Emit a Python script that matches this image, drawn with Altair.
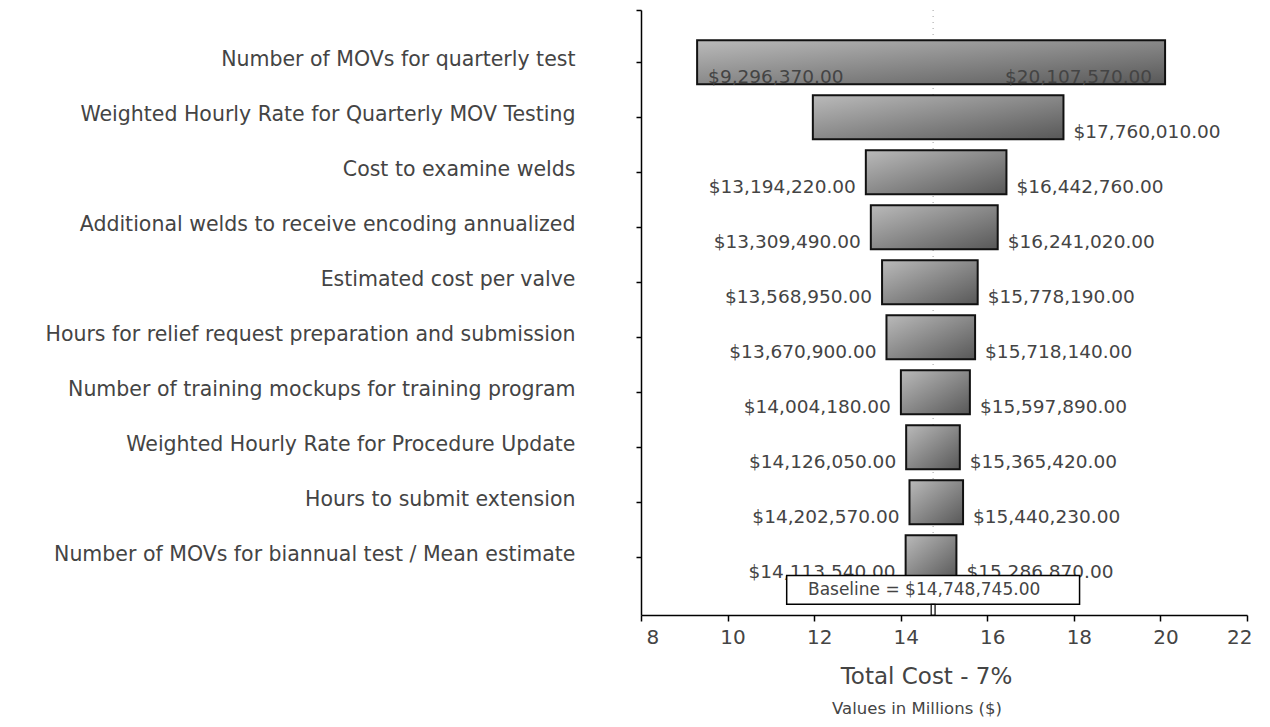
import json
import altair as alt
import pandas as pd

labels = [
    "Number of MOVs for quarterly test",
    "Weighted Hourly Rate for Quarterly MOV Testing",
    "Cost to examine welds",
    "Additional welds to receive encoding annualized",
    "Estimated cost per valve",
    "Hours for relief request preparation and submission",
    "Number of training mockups for training program",
    "Weighted Hourly Rate for Procedure Update",
    "Hours to submit extension",
    "Number of MOVs for biannual test / Mean estimate",
]
low = [9296370, 11970000, 13194220, 13309490, 13568950,
       13670900, 14004180, 14126050, 14202570, 14113540]
high = [20107570, 17760010, 16442760, 16241020, 15778190,
        15718140, 15597890, 15365420, 15440230, 15286870]
low_pos = ["inside", "none", "outside", "outside", "outside",
           "outside", "outside", "outside", "outside", "outside"]
high_pos = ["inside", "outside", "outside", "outside", "outside",
            "outside", "outside", "outside", "outside", "outside"]
baseline = 14748745
x_ticks = [8, 10, 12, 14, 16, 18, 20, 22]

rows = []
for i, (lab, lo, hi, lp, hp) in enumerate(zip(labels, low, high, low_pos, high_pos)):
    rows.append(dict(idx=i, label=lab, lo=lo / 1e6, hi=hi / 1e6,
                     lo_txt=f"${lo:,.2f}", hi_txt=f"${hi:,.2f}",
                     lpos=lp, hpos=hp))
df = pd.DataFrame(rows)
bdf = pd.DataFrame({"base": [baseline / 1e6],
                    "txt": [f"Baseline = ${baseline:,.2f}"]})

FONT = "DejaVu Sans"
TXT = "#444444"
xscale = alt.Scale(domain=[8, 22], nice=False, zero=False)
yscale = alt.Scale(domain=[-0.95, 10.05], reverse=True, nice=False, zero=False)

label_expr = "[" + ",".join(json.dumps(l) for l in labels) + "][datum.value] || ''"

xaxis = alt.Axis(values=x_ticks, grid=False, domainColor="black", domainWidth=1.5,
                 tickColor="black", tickWidth=1.5, tickSize=6,
                 labelFontSize=20, labelColor=TXT, labelFont=FONT, labelOffset=5,
                 labelPadding=6,
                 title="Total Cost - 7%", titleFontSize=23, titleFontWeight="normal",
                 titleColor=TXT, titleFont=FONT, titlePadding=18, titleX=285,
                 titleAnchor="start", titleAlign="center")
yaxis = alt.Axis(values=[-0.95] + list(range(10)), grid=False, domainColor="black",
                 domainWidth=1.5, tickColor="black", tickWidth=1.5, tickSize=5,
                 labelExpr=label_expr, labelFontSize=20.5, labelColor=TXT,
                 labelFont=FONT, labelPadding=61, labelLimit=1000, labelOffset=-3,
                 title=None)

def X(field):
    return alt.X(field, scale=xscale, axis=xaxis)

def Y(field):
    return alt.Y(field, scale=yscale, axis=yaxis)

base = alt.Chart(df).transform_calculate(
    y0="datum.idx - 0.4", y1="datum.idx + 0.4")

rule = alt.Chart(bdf).transform_calculate(
    ytop="-0.95", ybot="10.05").mark_rule(
    color="#b0b0b0", strokeDash=[1, 5], strokeWidth=1.2).encode(
    x=X("base:Q"), y=Y("ytop:Q"), y2="ybot:Q")

grad = {"gradient": "linear", "x1": 0, "y1": 0, "x2": 1, "y2": 1,
        "stops": [{"offset": 0, "color": "#bababa"},
                  {"offset": 1, "color": "#585858"}]}

bars = base.mark_rect(fill=grad, stroke="#111111", strokeWidth=2).encode(
    x=X("lo:Q"), x2="hi:Q", y=Y("y0:Q"), y2="y1:Q")

def txt(filter_expr, xfield, tfield, align, dx):
    return base.transform_filter(filter_expr).mark_text(
        align=align, baseline="alphabetic", dx=dx, dy=-1,
        fontSize=18.5, font=FONT, color=TXT).encode(
        x=X(f"{xfield}:Q"), y=Y("y1:Q"), text=f"{tfield}:N")

lo_out = txt("datum.lpos == 'outside'", "lo", "lo_txt", "right", -10)
lo_in = txt("datum.lpos == 'inside'", "lo", "lo_txt", "left", 11)
hi_out = txt("datum.hpos == 'outside'", "hi", "hi_txt", "left", 10)
hi_in = txt("datum.hpos == 'inside'", "hi", "hi_txt", "right", -13)

box = alt.Chart(bdf).transform_calculate(
    bx0="datum.base - 3.383", bx1="datum.base + 3.383",
    by0="9.33", by1="9.855").mark_rect(
    fill="white", stroke="black", strokeWidth=1.5).encode(
    x=X("bx0:Q"), x2="bx1:Q", y=Y("by0:Q"), y2="by1:Q")

box_text = alt.Chart(bdf).transform_calculate(ym="9.5925").mark_text(
    align="center", baseline="middle", dx=-9, fontSize=17, font=FONT,
    color=TXT).encode(
    x=X("base:Q"), y=Y("ym:Q"), text="txt:N")

marker = alt.Chart(bdf).transform_calculate(
    mx0="datum.base - 0.045", mx1="datum.base + 0.045",
    my0="9.855", my1="10.05").mark_rect(
    fill="white", stroke="black", strokeWidth=1.2).encode(
    x=X("mx0:Q"), x2="mx1:Q", y=Y("my0:Q"), y2="my1:Q")

chart = alt.layer(rule, bars, lo_out, lo_in, hi_out, hi_in, box, box_text, marker).properties(
    width=606, height=605,
    autosize=alt.AutoSizeParams(type="none"),
    padding={"left": 633, "top": 2, "right": 15, "bottom": 104},
    title=alt.Title("Values in Millions ($)", orient="bottom", fontSize=16.5,
                    fontWeight="normal", color=TXT, font=FONT, dx=-27, offset=13),
).configure_view(stroke=None)

chart.save("out.html", embed_options={"renderer": "svg", "actions": False})
